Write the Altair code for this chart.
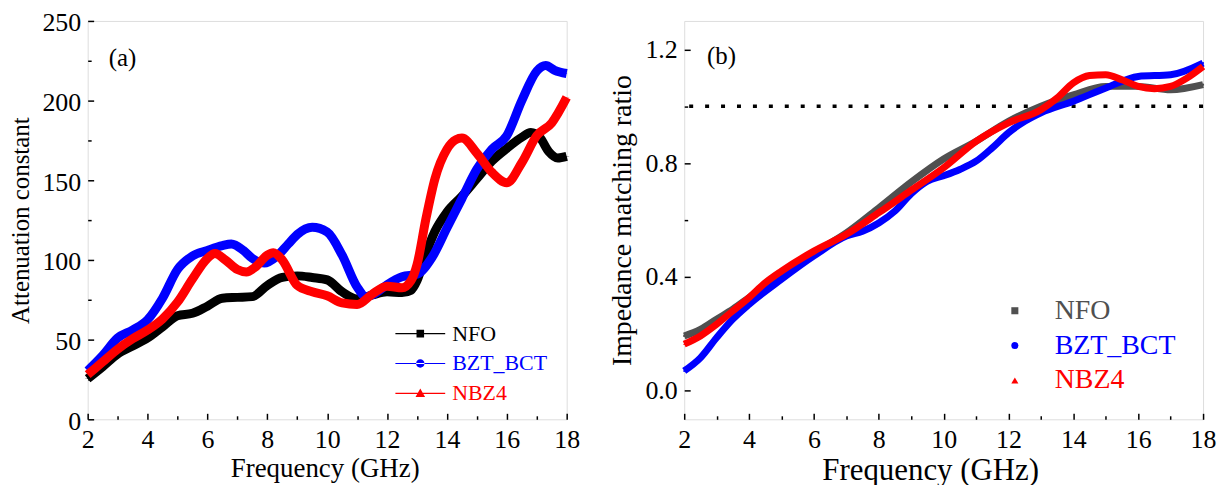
import altair as alt
import pandas as pd

FONT = "Liberation Serif"
series_names = ["NFO", "BZT_BCT", "NBZ4"]

# ---------- panel (a): attenuation constant ----------
a_nfo_x = [2, 2.5, 3, 3.5, 4, 4.5, 5, 5.5, 6, 6.5, 7, 7.5, 8, 8.5, 9, 9.5, 10, 10.5, 11, 11.5, 12, 12.5, 12.8, 13, 13.3, 13.6, 14, 14.5, 15, 15.5, 16, 16.5, 16.8, 17.1, 17.4, 17.7, 18]
a_nfo_y = [25.5, 33, 41, 46, 51, 58, 65, 66.5, 71, 76, 76.5, 77, 84, 89, 90, 89, 87.5, 80, 75.5, 78, 80, 79.5, 81, 87, 104, 118, 130, 140, 151, 162, 170, 177, 180, 177, 168, 164, 165]

a_bzt_x = [2, 2.5, 3, 3.5, 4, 4.5, 5, 5.5, 6, 6.5, 6.8, 7.2, 7.5, 7.9, 8.3, 8.7, 9, 9.5, 10, 10.5, 11, 11.3, 11.6, 12, 12.5, 13, 13.5, 14, 14.5, 15, 15.5, 16, 16.5, 17, 17.3, 17.6, 18]
a_bzt_y = [30.5, 40, 51, 56, 62.5, 76, 94, 102.5, 106, 109, 110, 106, 101, 98, 102, 110, 116, 120.5, 117.5, 103, 83, 77, 79, 84.5, 89.5, 91, 101.5, 120, 138.5, 157, 169.5, 178, 200, 218.5, 222, 219, 217]

a_nbz_x = [2, 2.5, 3, 3.5, 4, 4.5, 5, 5.5, 6, 6.25, 6.6, 7, 7.3, 7.6, 8, 8.2, 8.5, 9, 9.5, 10, 10.5, 11, 11.5, 12, 12.5, 12.8, 13, 13.3, 13.6, 14, 14.3, 14.5, 15, 15.5, 16, 16.5, 17, 17.5, 18]
a_nbz_y = [28, 36, 44, 50.5, 56, 63, 73.5, 88, 101, 104, 100, 94, 92.5, 95.5, 103, 104.5, 100, 84, 80, 77.5, 73, 72, 78.5, 83.5, 82.5, 87, 97, 126, 151, 169.5, 175.5, 176.5, 167, 155, 148.5, 161, 178, 186, 202]

# ---------- panel (b): impedance matching ratio ----------
b_nfo_x = [2, 2.5, 3, 3.5, 4, 5, 6, 7, 8, 9, 10, 11, 12, 13, 14, 15, 16, 17, 18]
b_nfo_y = [0.193, 0.216, 0.252, 0.287, 0.328, 0.409, 0.485, 0.555, 0.643, 0.734, 0.815, 0.877, 0.947, 1.0, 1.04, 1.07, 1.07, 1.058, 1.076]

b_bzt_x = [2, 2.5, 3, 3.5, 4, 5, 6, 7, 7.5, 8, 8.5, 9, 9.5, 10, 10.5, 11, 11.5, 12, 12.5, 13, 14, 15, 16, 17, 18]
b_bzt_y = [0.07, 0.116, 0.187, 0.252, 0.304, 0.392, 0.474, 0.544, 0.561, 0.590, 0.632, 0.693, 0.737, 0.756, 0.778, 0.807, 0.854, 0.907, 0.947, 0.977, 1.018, 1.064, 1.105, 1.111, 1.152]

b_nbz_x = [2, 2.5, 3, 3.5, 4, 4.5, 5, 6, 7, 8, 9, 10, 11, 12, 13, 13.5, 14, 14.5, 15, 15.5, 16, 16.5, 17, 17.5, 18]
b_nbz_y = [0.164, 0.193, 0.234, 0.281, 0.328, 0.380, 0.421, 0.491, 0.550, 0.626, 0.705, 0.784, 0.877, 0.942, 0.988, 1.029, 1.082, 1.108, 1.111, 1.093, 1.07, 1.062, 1.07, 1.099, 1.14]

x_label_values = [2, 4, 6, 8, 10, 12, 14, 16, 18]
x_tick_values = list(range(2, 19))
a_y_labels = [0, 50, 100, 150, 200, 250]
a_y_ticks = [0, 25, 50, 75, 100, 125, 150, 175, 200, 225, 250]
b_y_labels = [0.0, 0.4, 0.8, 1.2]
b_y_ticks = [0.0, 0.2, 0.4, 0.6, 0.8, 1.0, 1.2]
matching_line = [1.0]


def long_df(pairs):
    rows = []
    for name, xs, ys in pairs:
        for x, y in zip(xs, ys):
            rows.append({"f": x, "v": y, "series": name})
    return pd.DataFrame(rows)


dfa = long_df([("NFO", a_nfo_x, a_nfo_y), ("BZT_BCT", a_bzt_x, a_bzt_y), ("NBZ4", a_nbz_x, a_nbz_y)])
dfb = long_df([("NFO", b_nfo_x, b_nfo_y), ("BZT_BCT", b_bzt_x, b_bzt_y), ("NBZ4", b_nbz_x, b_nbz_y)])

LINE = "M-2.5,-0.06H2.5V0.06H-2.5Z "
sym_sq = LINE + "M-0.38,-0.38H0.38V0.38H-0.38Z"
sym_ci = LINE + "M-0.42,0A0.42,0.42 0 1,0 0.42,0A0.42,0.42 0 1,0 -0.42,0Z"
sym_tr = LINE + "M0,-0.5L0.48,0.36L-0.48,0.36Z"


def tick_axis(orient, offset, values, test):
    return alt.Axis(orient=orient, offset=offset, values=values, labels=False, domain=False,
                    grid=False, title=None, tickColor="black", tickWidth=1.5,
                    tickSize={"condition": {"test": test, "value": 6}, "value": 3.5})


def panel(df, W, H, ydom, ylabels, yticks, ytest, ytitle, colors, shapes, legend, lw,
          tick_fs, xtitle_fs, ytitle_fs, ylab_fmt, ylab_off, xtitle_x, tag, tag_x, tag_y,
          extra=None):
    xs = alt.Scale(domain=[2, 18], nice=False, zero=False)
    ys = alt.Scale(domain=ydom, nice=False, zero=False)
    col = alt.Scale(domain=series_names, range=colors)
    shp = alt.Scale(domain=series_names, range=shapes)
    pts = alt.Chart(df).mark_point(filled=True, size=4, opacity=1).encode(
        x=alt.X("f:Q", scale=xs, axis=tick_axis("top", -H, x_tick_values, "datum.value % 2 == 0")),
        y=alt.Y("v:Q", scale=ys, axis=tick_axis("right", -W, yticks, ytest)),
        color=alt.Color("series:N", scale=col, legend=legend),
        shape=alt.Shape("series:N", scale=shp, legend=legend),
    )
    lines = alt.Chart(df).mark_line(strokeWidth=lw, interpolate="monotone").encode(
        x=alt.X("f:Q", scale=xs, axis=alt.Axis(
            orient="bottom", values=x_label_values, ticks=False, domain=False, grid=False,
            title="Frequency (GHz)", labelFontSize=tick_fs, titleFontSize=xtitle_fs,
            titleFontWeight="normal", labelFont=FONT, titleFont=FONT,
            titleX=xtitle_x, titleAlign="center",
            labelPadding=7, titlePadding=3, labelFlush=False)),
        y=alt.Y("v:Q", scale=ys, axis=alt.Axis(
            orient="left", values=ylabels, ticks=False, domain=False, grid=False,
            title=ytitle, labelFontSize=tick_fs, titleFontSize=ytitle_fs, format=ylab_fmt,
            titleFontWeight="normal", labelFont=FONT, titleFont=FONT, labelOffset=ylab_off,
            labelPadding=7, titlePadding=8, labelFlush=False)),
        color=alt.Color("series:N", scale=col, legend=None),
    )
    tagdf = pd.DataFrame({"f": [tag_x], "v": [tag_y], "t": [tag]})
    tags = alt.Chart(tagdf).mark_text(align="left", baseline="middle", fontSize=25,
                                      font=FONT, color="black").encode(
        x=alt.X("f:Q", scale=xs, axis=None),
        y=alt.Y("v:Q", scale=ys, axis=None),
        text="t:N",
    )
    layers = [pts]
    if extra is not None:
        layers.append(alt.Chart(pd.DataFrame({"v": extra})).mark_rule(
            strokeDash=[4, 12], strokeWidth=3.5, color="black").encode(
            y=alt.Y("v:Q", scale=ys, axis=None)))
    layers += [lines, tags]
    return alt.layer(*layers).resolve_axis(x="independent", y="independent").properties(
        width=W, height=H)


color_expr_a = "datum.value == 'NFO' ? '#000000' : datum.value == 'BZT_BCT' ? '#0000ff' : '#ff0000'"
color_expr_b = "datum.value == 'NFO' ? '#505050' : datum.value == 'BZT_BCT' ? '#0000ff' : '#ff0000'"

legend_a = alt.Legend(orient="none", legendX=323, legendY=303, title=None, labelFontSize=22,
                      labelFont=FONT, symbolSize=400, symbolStrokeWidth=0, labelOffset=21,
                      rowPadding=8, padding=0, labelColor={"expr": color_expr_a})
legend_b = alt.Legend(orient="none", legendX=318, legendY=277, title=None, labelFontSize=28,
                      labelFont=FONT, symbolSize=50, symbolStrokeWidth=0, labelOffset=26,
                      rowPadding=7, padding=0, labelColor={"expr": color_expr_b})

left = panel(dfa, 481, 400, [0, 250], a_y_labels, a_y_ticks, "datum.value % 50 == 0",
             "Attenuation constant", ["#000000", "#0000ff", "#ff0000"], [sym_sq, sym_ci, sym_tr],
             legend_a, 9, 26, 27, 25, "d", 2, 238, "(a)", 2.7, 227)
right = panel(dfb, 521, 400, [-0.1, 1.3], b_y_labels, b_y_ticks,
              "abs(round(datum.value * 10)) % 4 == 0",
              "Impedance matching ratio", ["#505050", "#0000ff", "#ff0000"],
              ["square", "circle", "triangle-up"], legend_b, 7, 26, 31, 28, ".1f", 0, 247,
              "(b)", 2.7, 1.175, extra=matching_line)

chart = alt.hconcat(left, right, spacing=23).resolve_scale(
    color="independent", shape="independent").resolve_legend(
    color="independent", shape="independent").properties(
    padding={"left": 0, "top": 0, "right": 0, "bottom": 0}).configure_view(
    stroke="black", strokeWidth=1.5).configure_axis(
    labelFont=FONT, titleFont=FONT, labelColor="black", titleColor="black",
    titleFontWeight="normal").configure_legend(labelFont=FONT).configure(
    font=FONT, background="white")

chart.save("out.html", embed_options={"renderer": "svg", "actions": False})
